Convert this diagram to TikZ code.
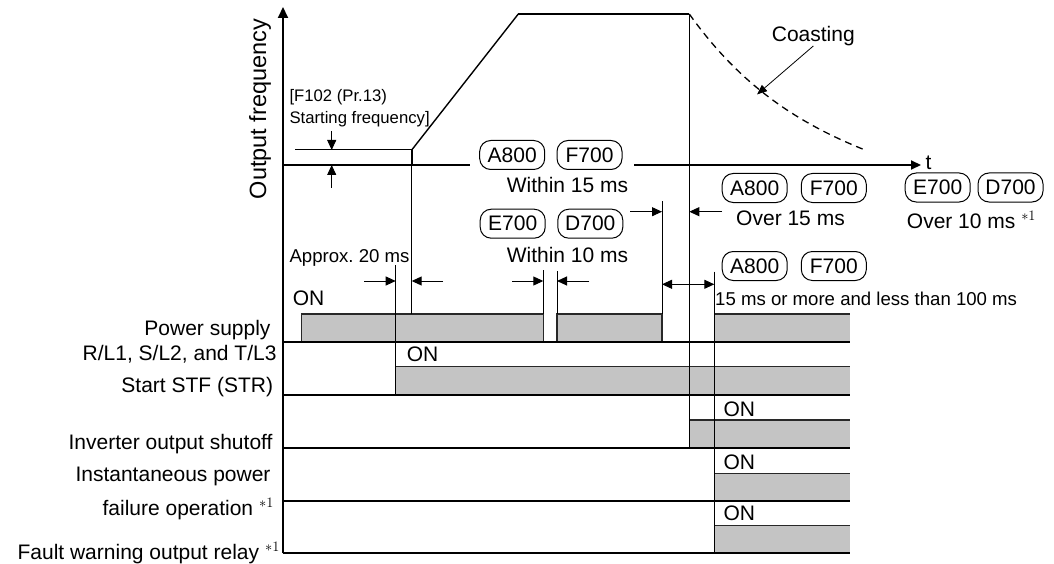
\documentclass[tikz,border=0pt]{standalone}
\usepackage{fontspec}
\setmainfont{Liberation Sans}
\usetikzlibrary{arrows.meta}
\definecolor{boxgray}{RGB}{196,196,196}
\definecolor{edgegray}{RGB}{40,40,40}
\frenchspacing
\begin{document}
\begin{tikzpicture}[x=1pt,y=-1pt,
  thickline/.style={line width=2pt},
  thinline/.style={line width=1pt},
  tipped/.style={-{Triangle[length=10pt,width=9pt]}},
  lbl/.style={font=\fontsize{21}{25}\selectfont, inner sep=0pt},
  biglbl/.style={font=\fontsize{23.5}{28}\selectfont, inner sep=0pt},
  smalllbl/.style={font=\fontsize{18.6}{22}\selectfont, inner sep=0pt},
  tinylbl/.style={font=\fontsize{16.7}{20}\selectfont, inner sep=0pt},
  model/.style={draw, line width=1pt, rounded corners=11pt, minimum height=29pt,
    minimum width=65pt, inner xsep=4pt, inner ysep=0pt, font=\fontsize{21}{25}\selectfont},
  sigfill/.style={fill=boxgray},
  sigedge/.style={draw=edgegray, line width=1.5pt}
]
\useasboundingbox (0,0) rectangle (1054,564);

% ---------- signal boxes ----------
\fill[sigfill] (301.7,314) rectangle (543.3,341.5);
\fill[sigfill] (557,314) rectangle (662,341.5);
\fill[sigfill] (714.3,314) rectangle (850,341.5);
\fill[sigfill] (395.7,366.7) rectangle (850,394.5);
\fill[sigfill] (689.3,420) rectangle (850,447.7);
\fill[sigfill] (714.3,473.3) rectangle (850,500.7);
\fill[sigfill] (714.3,525.7) rectangle (850,553.3);

\draw[sigedge] (301.7,341.5) -- (301.7,314) -- (543.3,314) -- (543.3,341.5);
\draw[sigedge] (557,341.5) -- (557,314) -- (662,314) -- (662,341.5);
\draw[sigedge] (714.3,314) -- (850,314);
\draw[sigedge] (395.7,366.7) -- (850,366.7);
\draw[sigedge] (689.3,420) -- (850,420);
\draw[sigedge] (714.3,473.3) -- (850,473.3);
\draw[sigedge] (714.3,525.7) -- (850,525.7);

% ---------- base lines ----------
\foreach \yy in {341.5,394.5,447.7,500.7,553.3}
  \draw[thickline] (283,\yy) -- (850,\yy);

% ---------- axes ----------
\coordinate (origin) at (283,553.3);
\coordinate (ytop) at (283,7);
\draw[thickline, -{Triangle[length=11pt,width=10pt]}] (origin) -- (ytop);
\coordinate (tA) at (283,165);
\coordinate (tB) at (470,165);
\coordinate (tC) at (634,165);
\coordinate (tD) at (921,165);
\draw[thickline] (tA) -- (tB);
\draw[thickline, tipped] (tC) -- (tD);
\node[lbl, anchor=base west] (tlabel) at (925.5,170) {t};
\node[biglbl, rotate=90] (ylabel) at (260,109) {Output frequency};

% ---------- frequency curve ----------
\draw[thickline] (411.7,165) -- (411.7,150);
\draw[line width=1.4pt] (411.7,150) -- (518.3,14);
\draw[thickline] (518.3,14) -- (689.3,14);
\draw[line width=1.3pt, dash pattern=on 7pt off 5pt]
  (689.3,14) .. controls (739.3,84) and (795,122) .. (865,150);
\node[lbl, anchor=base] (coast) at (813.3,41.7) {Coasting};
\coordinate (coastpt) at (757,94.5);
\draw[line width=0.8pt, -{Triangle[length=10pt,width=8pt]}] (813.3,46) -- (coastpt);

% ---------- starting frequency ----------
\draw[thinline] (295,150) -- (411.7,150);
\node[tinylbl, anchor=base west] (sf1) at (289.3,102) {[F102 (Pr.13)};
\node[tinylbl, anchor=base west] (sf2) at (289.3,123.5) {Starting frequency]};
\draw[thinline, tipped] (331.7,131) -- (331.7,150);
\draw[thinline, tipped] (331.7,188) -- (331.7,165);

% ---------- vertical guide lines ----------
\draw[thinline] (411.7,165) -- (411.7,314);
\draw[thinline] (395.7,265) -- (395.7,394.5);
\draw[thinline] (543.3,270) -- (543.3,314);
\draw[thinline] (557,271) -- (557,314);
\draw[thinline] (662,201) -- (662,314);
\draw[thinline] (689.3,14) -- (689.3,447.7);
\draw[thinline] (714.3,271.7) -- (714.3,553.3);

% ---------- dimension arrows ----------
\draw[thinline, tipped] (364,281) -- (395.7,281);
\draw[thinline, tipped] (443,281) -- (411.7,281);
\draw[thinline, tipped] (512.3,281) -- (543.3,281);
\draw[thinline, tipped] (589.3,281) -- (557,281);
\draw[thinline, tipped] (630,211.7) -- (662,211.7);
\draw[thinline, tipped] (722,211.7) -- (689.3,211.7);
\draw[thinline, {Triangle[length=10pt,width=9pt]}-{Triangle[length=10pt,width=9pt]}] (662,284.3) -- (714.3,284.3);

% ---------- model boxes and texts ----------
\node[model] (a1) at (512.2,155) {A800};
\node[model] (f1) at (589.5,155) {F700};
\node[lbl, anchor=base] (w15) at (567.5,193) {Within 15 ms};
\node[model] (e1) at (512.7,223.7) {E700};
\node[model] (d1) at (590.3,223.7) {D700};
\node[lbl, anchor=base] (w10) at (567.5,262.5) {Within 10 ms};

\node[model] (a2) at (754.7,188) {A800};
\node[model] (f2) at (833.8,188) {F700};
\node[lbl, anchor=base] (o15) at (790.5,225) {Over 15 ms};
\node[model] (e2) at (937.7,187.5) {E700};
\node[model] (d2) at (1010.5,187.5) {D700};
\node[lbl, anchor=base west] (o10) at (906.7,228) {Over 10 ms $^{*1}$};

\node[model] (a3) at (754.7,266) {A800};
\node[model] (f3) at (833.8,266) {F700};
\node[smalllbl, anchor=base west] (rng) at (715,305) {15 ms or more and less than 100 ms};
\node[smalllbl, anchor=base west] (apx) at (289.3,262.3) {Approx. 20 ms};

% ---------- ON labels ----------
\node[lbl, anchor=base west] (on1) at (292.7,305) {ON};
\node[lbl, anchor=base west] (on2) at (406.7,361.7) {ON};
\node[lbl, anchor=base west] (on3) at (723.3,416.7) {ON};
\node[lbl, anchor=base west] (on4) at (723.3,469.3) {ON};
\node[lbl, anchor=base west] (on5) at (723.3,520) {ON};

% ---------- signal names ----------
\node[lbl, anchor=base east] (n1) at (270.7,335) {Power supply};
\node[lbl, anchor=base east] (n2) at (276.7,360) {R/L1, S/L2, and T/L3};
\node[lbl, anchor=base east] (n3) at (273.3,392.7) {Start STF (STR)};
\node[lbl, anchor=base east] (n4) at (272.7,449) {Inverter output shutoff};
\node[lbl, anchor=base east] (n5) at (270.7,481) {Instantaneous power};
\node[lbl, anchor=base east] (n6) at (274,515) {failure operation $^{*1}$};
\node[lbl, anchor=base east] (n7) at (280,559) {Fault warning output relay $^{*1}$};
\end{tikzpicture}
\end{document}
